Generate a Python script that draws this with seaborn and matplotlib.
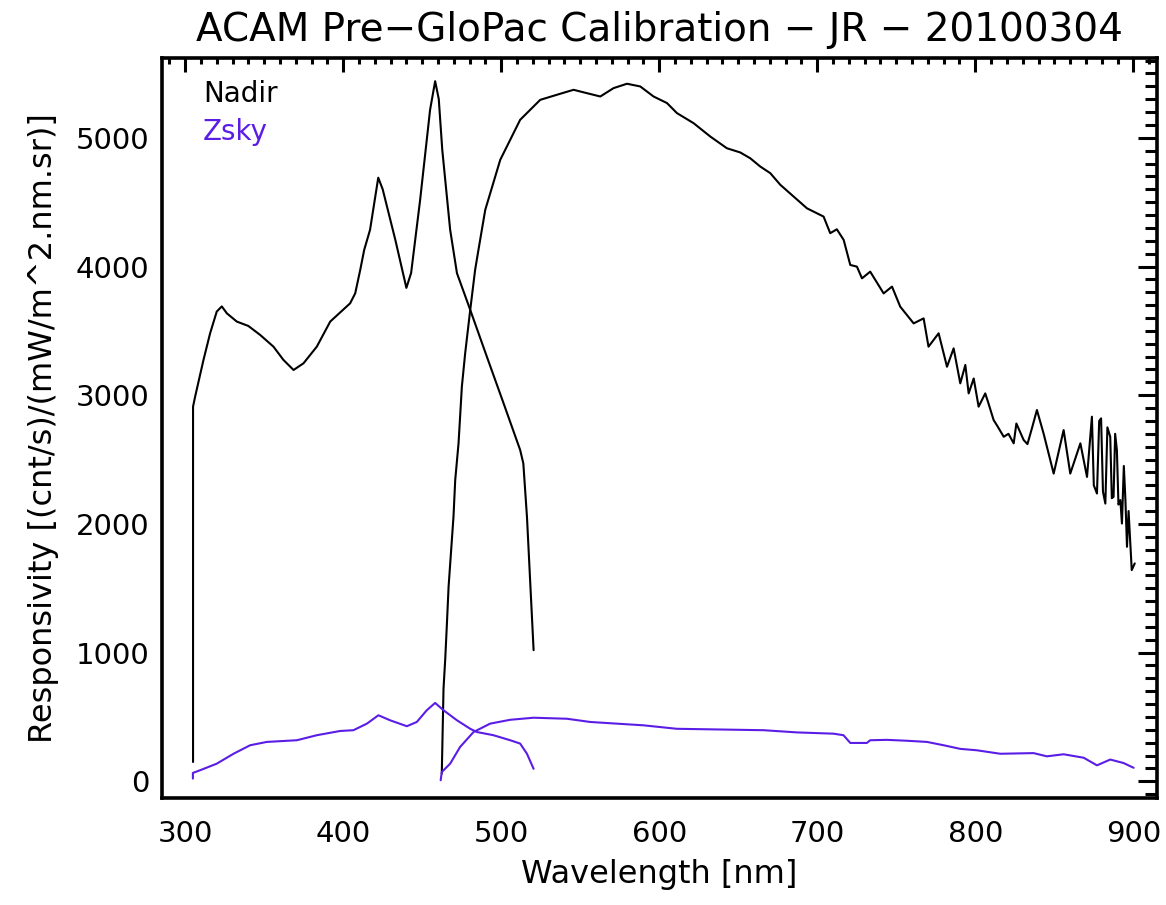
import numpy as np
import pandas as pd
import matplotlib
matplotlib.use("Agg")
import matplotlib.pyplot as plt
import seaborn as sns
from matplotlib.ticker import MultipleLocator

# ── data ────────────────────────────────────────────────────
# Nadir, first spectrometer (blue side)
nadir1_wl = [305, 305, 306.3, 311.6, 315.8, 320, 323.2, 326.4, 332.7, 340,
             347.5, 355.9, 362.2, 368.6, 374.9, 383.3, 391.8, 404.4, 407.6,
             410.8, 413.3, 417, 422.2, 425, 433, 440, 443, 448.7, 455,
             458.2, 460.5, 462.7, 467.7, 472, 480.4, 490.9, 501.5, 512,
             514, 516.3, 518.4, 520.5]
nadir1_resp = [150, 2911, 2988, 3274, 3481, 3650, 3690, 3636, 3572, 3538,
               3468, 3377, 3274, 3196, 3248, 3377, 3572, 3714, 3791,
               3974, 4129, 4285, 4690, 4600, 4207, 3834, 3950, 4518, 5218,
               5440, 5300, 4907, 4285, 3948, 3663, 3300, 2937, 2574,
               2470, 2055, 1537, 1019]

# Nadir, second spectrometer (red side)
nadir2_wl = [462.4, 463.5, 464.6, 465.6, 466.7, 469.8, 470.9, 473, 475.1,
             477.2, 480.4, 483.5, 485.6, 489.9, 499.4, 512, 524.7, 537.3,
             545.8, 554.2, 562.7, 571.1, 579.6, 588, 596.4, 604.9, 611.2,
             621.7, 632.3, 642.8, 651.3, 657.6, 663.9, 670.3, 676.6, 685,
             693.5, 704, 708.2, 712.4, 716.7, 720.9, 725.1, 728.3, 733.5,
             742, 747.3, 752.5, 761, 767.3, 770.4, 776.8, 782.1, 786.3,
             790.5, 793.7, 795.8, 799, 802.1, 806.3, 808, 811.6, 814, 818,
             821, 824.3, 826, 830.6, 833, 836, 839, 843.2, 849.6, 855.9,
             860.1, 866.5, 870.7, 873.8, 875, 877, 878.4, 879.6, 880.8,
             882.3, 883.6, 885.4, 886.4, 887.5, 888.5, 889.6, 890.6, 891.8,
             892.8, 894, 895, 896, 897, 898.1, 899, 900.9]
nadir2_resp = [60, 721, 954, 1213, 1511, 2055, 2341, 2626, 3066,
               3326, 3663, 3974, 4129, 4440, 4829, 5140, 5295, 5342,
               5373, 5347, 5321, 5386, 5420, 5399, 5321, 5270, 5192,
               5114, 5010, 4919, 4886, 4841, 4777, 4725, 4635, 4544,
               4452, 4388, 4259, 4289, 4207, 4012, 3999, 3908, 3960,
               3791, 3844, 3688, 3558, 3597, 3377, 3481, 3221, 3364,
               3092, 3235, 3014, 3130, 2911, 3014, 2950, 2807, 2760, 2677,
               2700, 2626, 2780, 2652, 2620, 2750, 2885, 2703, 2391, 2729,
               2391, 2626, 2365, 2833, 2300, 2236, 2800, 2820, 2250,
               2158, 2750, 2677, 2200, 2210, 2700, 2574, 2150, 2185,
               2003, 2450, 2185, 1822, 2100, 1848, 1641, 1693]

# Zsky, first spectrometer
zsky1_wl = [304.9, 304.9, 309.5, 320, 330.6, 341.1, 351.7, 370.7, 383.3,
            398.1, 406.5, 415, 422.3, 429.7, 440.3, 446.6, 452.9, 458.2,
            463.5, 472, 480.4, 484.6, 495.1, 505.7, 512, 516.3, 520.5]
zsky1_resp = [21, 65, 86, 137, 214, 280, 306, 319, 358,
              391, 397, 448, 513, 474, 428, 461, 552, 609,
              552, 474, 408, 383, 358, 319, 293, 214, 97]

# Zsky, second spectrometer
zsky2_wl = [461.7, 462.4, 467.7, 474, 482.5, 493, 505.7, 520.5, 541.6,
            556.3, 590, 611.1, 666, 687, 710.3, 716.6, 720.9, 731.4,
            733.5, 744.1, 756.8, 769.4, 780, 790.5, 801, 815.8, 836.9,
            845.3, 855.9, 868.6, 877, 885.4, 893.8, 900.2]
zsky2_resp = [8, 72, 137, 267, 383, 448, 478, 494, 486,
              461, 435, 408, 397, 380, 370, 358, 298, 298,
              319, 322, 315, 306, 280, 252, 241, 214, 219,
              194, 210, 183, 124, 169, 142, 105]

NADIR_COLOR = "black"
ZSKY_COLOR = "#5b1de6"

# ── plot ─────────────────────────────────────────────────────
sns.set_style("white")
plt.rcParams["font.family"] = ["DejaVu Sans"]
plt.rcParams["text.color"] = "black"
plt.rcParams["axes.labelcolor"] = "black"

fig = plt.figure(figsize=(11.66, 9.05), dpi=100)
ax = fig.add_axes([0.139, 0.1182, 0.8533, 0.8177])

segments = [
    (nadir1_wl, nadir1_resp, NADIR_COLOR),
    (nadir2_wl, nadir2_resp, NADIR_COLOR),
    (zsky1_wl, zsky1_resp, ZSKY_COLOR),
    (zsky2_wl, zsky2_resp, ZSKY_COLOR),
]
for wl, resp, col in segments:
    seg = pd.DataFrame({"wl": wl, "resp": resp})
    sns.lineplot(data=seg, x="wl", y="resp", sort=False, estimator=None,
                 color=col, linewidth=1.5, ax=ax)

ax.set_xlim(285.4, 915)
ax.set_ylim(-130, 5620)

ax.xaxis.set_major_locator(MultipleLocator(100))
ax.xaxis.set_minor_locator(MultipleLocator(10))
ax.yaxis.set_major_locator(MultipleLocator(1000))
ax.yaxis.set_minor_locator(MultipleLocator(100))

ax.tick_params(axis="both", which="both", direction="in",
               top=True, right=True, width=2.2, colors="black")
ax.tick_params(axis="x", which="major", length=10, pad=16, labelsize=21)
ax.tick_params(axis="x", which="minor", length=4.5)
ax.tick_params(axis="y", which="major", length=14, pad=9, labelsize=21)
ax.tick_params(axis="y", which="minor", length=8.5)

for sp in ax.spines.values():
    sp.set_linewidth(2.6)
    sp.set_color("black")

ax.set_xlabel("Wavelength [nm]", fontsize=23, labelpad=8, color="black")
ax.set_ylabel("Responsivity [(cnt/s)/(mW/m^2.nm.sr)]", fontsize=23,
              labelpad=12, color="black")
ax.set_title("ACAM Pre\u2212GloPac Calibration \u2212 JR \u2212 20100304",
             fontsize=28, pad=12, color="black")

ax.text(0.041, 0.9405, "Nadir", transform=ax.transAxes, fontsize=20,
        color=NADIR_COLOR)
ax.text(0.041, 0.889, "Zsky", transform=ax.transAxes, fontsize=20,
        color=ZSKY_COLOR)

fig.savefig("out.png", dpi=100)
